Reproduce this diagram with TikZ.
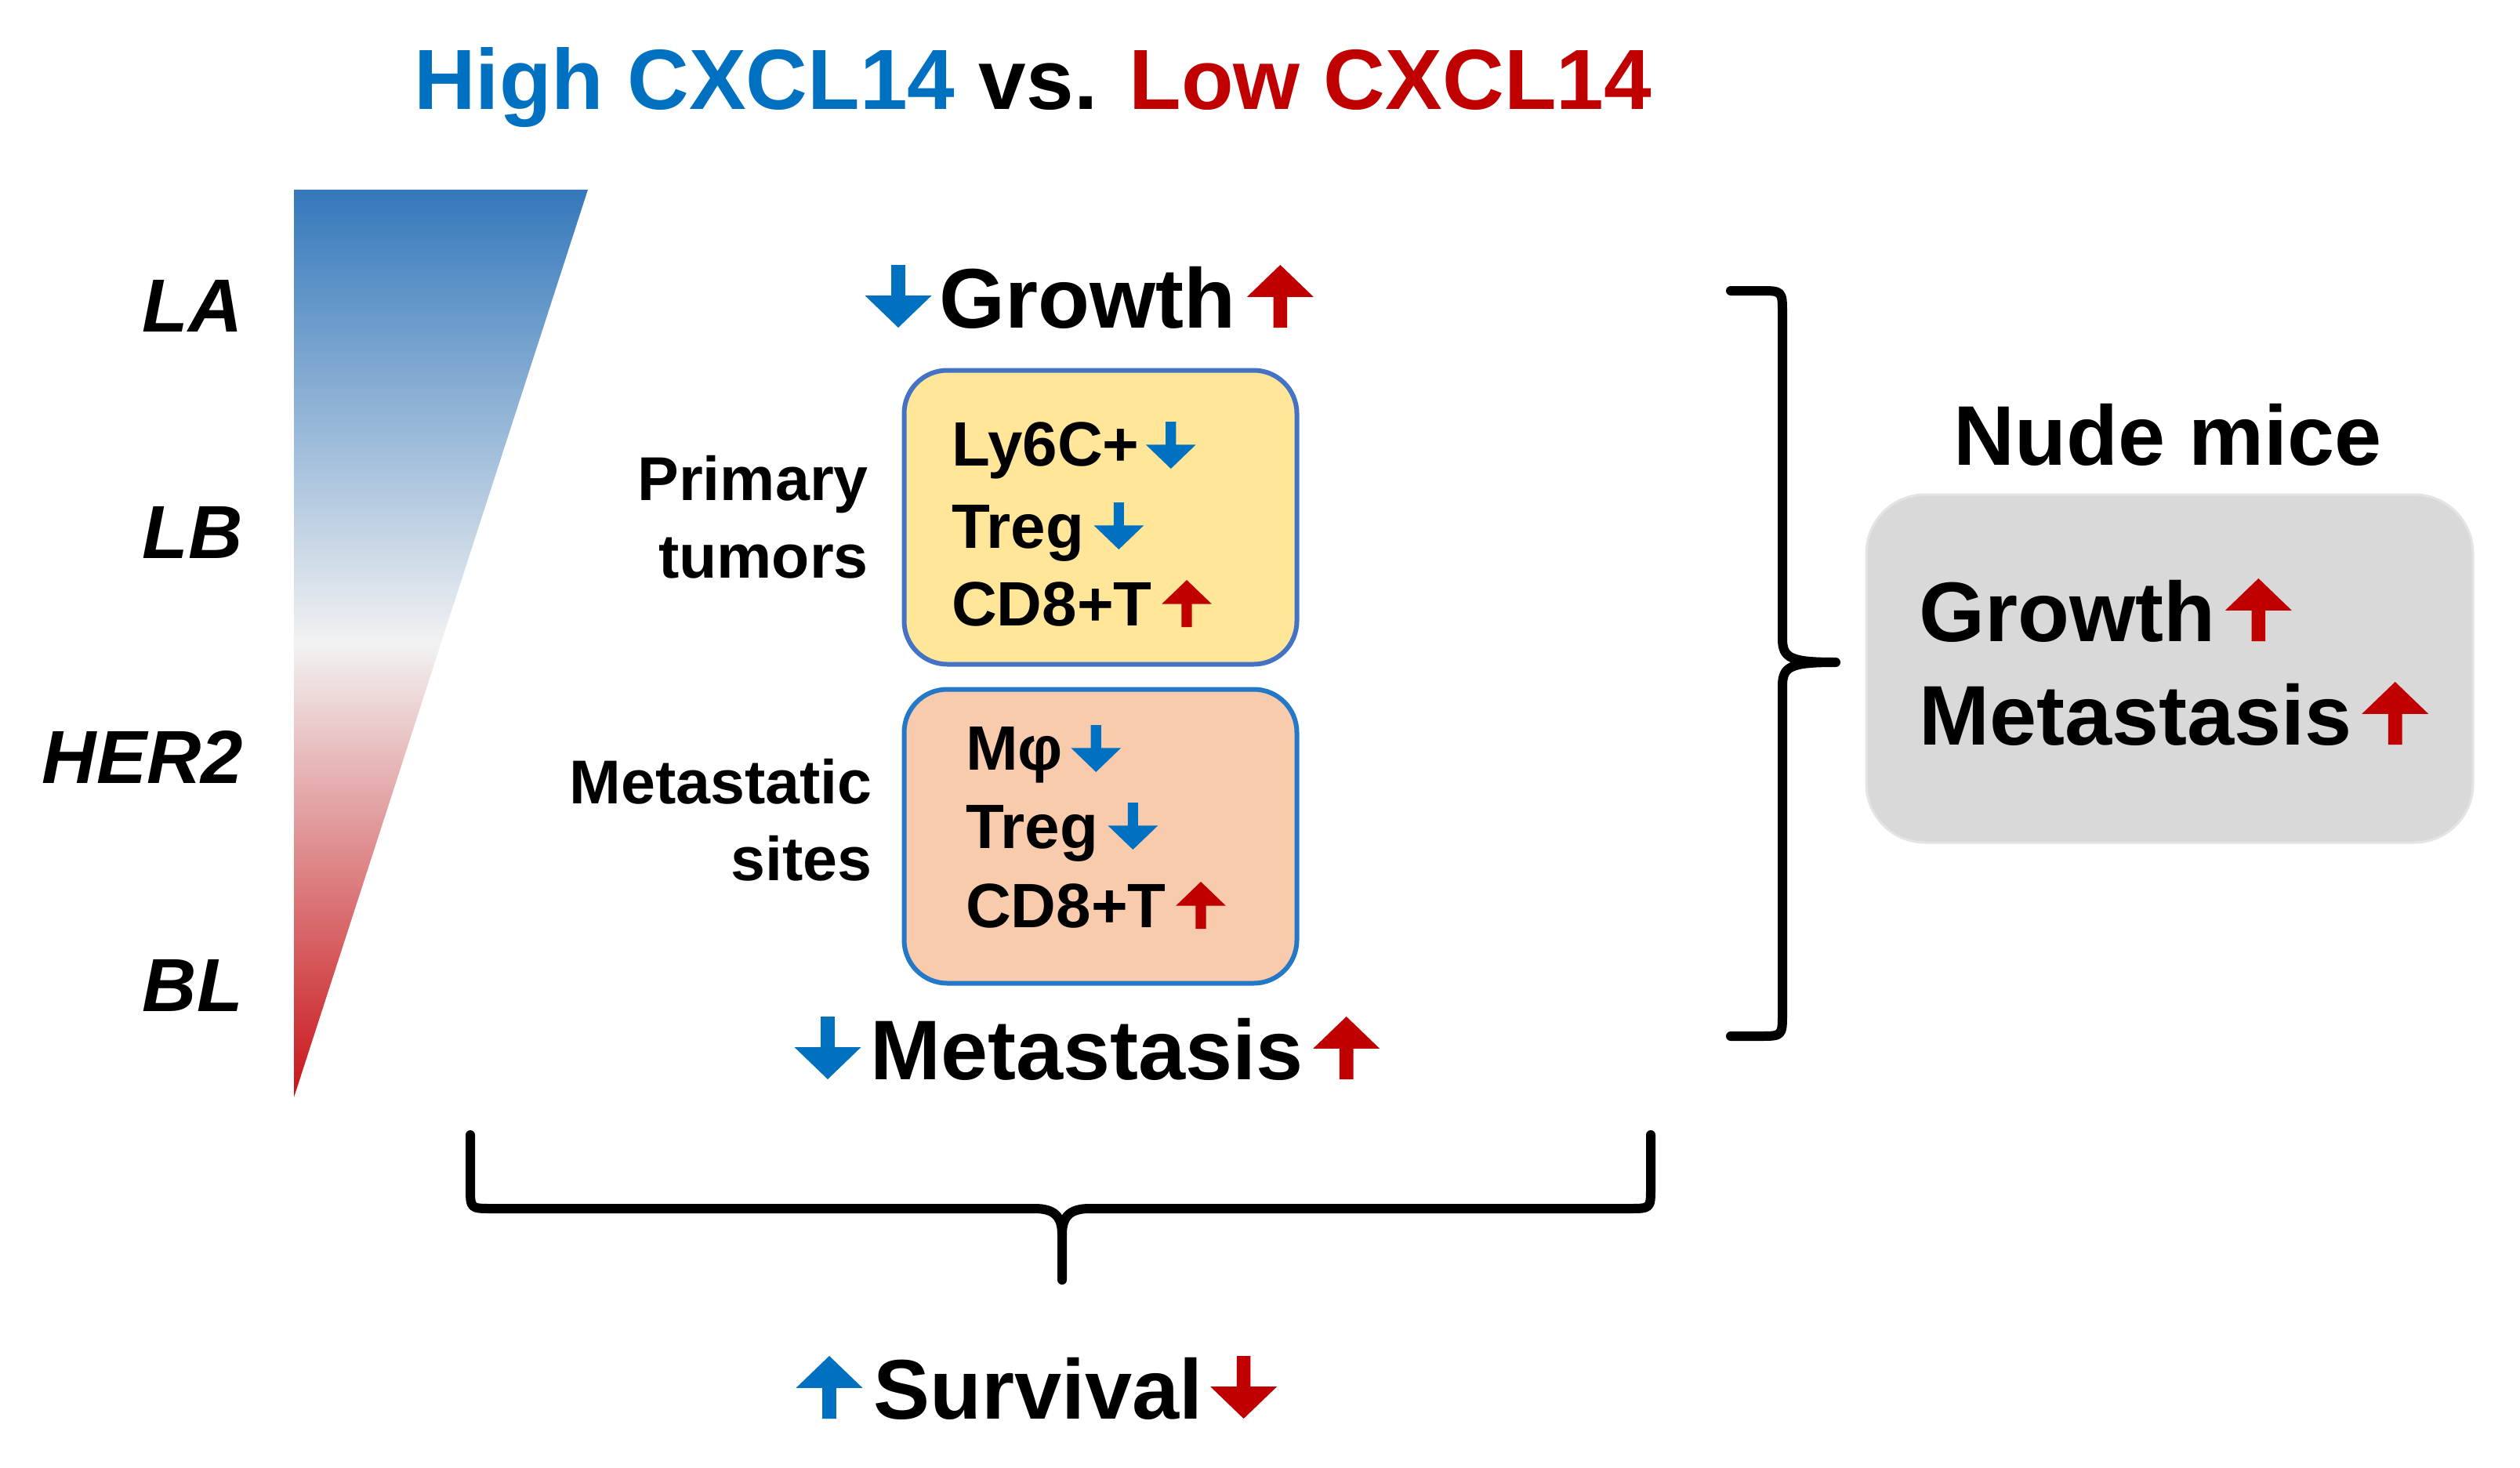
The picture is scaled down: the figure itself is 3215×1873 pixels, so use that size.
\documentclass[tikz,border=0pt]{standalone}
\usepackage{fontspec}
\setmainfont{Liberation Sans}
\usetikzlibrary{calc}
\definecolor{hiblue}{HTML}{0070C0}
\definecolor{lored}{HTML}{C00000}
\definecolor{yfill}{HTML}{FFE699}
\definecolor{ybord}{HTML}{4472C4}
\definecolor{ofill}{HTML}{F8CBAD}
\definecolor{obord}{HTML}{2478C8}
\definecolor{gfill}{HTML}{D9D9D9}
\definecolor{gbord}{HTML}{E4E4E4}
\definecolor{triTop}{HTML}{3478BB}
\definecolor{triMid}{HTML}{F2F2F2}
\definecolor{triBot}{HTML}{C81418}
\tikzset{
  uparr/.pic={\fill (0,-1) -- (0.53,-0.49) -- (0.11,-0.49) -- (0.11,0) -- (-0.11,0) -- (-0.11,-0.49) -- (-0.53,-0.49) -- cycle;},
  dnarr/.pic={\fill (0,0) -- (0.53,-0.51) -- (0.11,-0.51) -- (0.11,-1) -- (-0.11,-1) -- (-0.11,-0.51) -- (-0.53,-0.51) -- cycle;},
  bigtxt/.style={font=\fontsize{108}{120}\selectfont\bfseries, inner sep=0pt, anchor=base west},
  boxtxt/.style={font=\fontsize{80}{96}\selectfont\bfseries, inner sep=0pt, anchor=base west},
  sidetxt/.style={font=\fontsize{79}{96}\selectfont\bfseries, inner sep=0pt, anchor=base east},
  subtxt/.style={font=\fontsize{96}{110}\selectfont\bfseries\itshape, inner sep=0pt, anchor=base east},
  cellbox/.style={rounded corners=55pt, line width=6pt, inner sep=0pt, minimum width=501pt, minimum height=375pt},
  brace/.style={line width=12pt, line cap=round, line join=round},
}
\begin{document}
\begin{tikzpicture}[x=1pt,y=-1pt]
\useasboundingbox[fill=white] (0,0) rectangle (3215,1873);

% title
\node[font=\fontsize{109}{130}\selectfont\bfseries, inner sep=0pt, anchor=base west] (title) at (528,140)
  {\textcolor{hiblue}{High CXCL14} vs. \textcolor{lored}{Low CXCL14}};

% gradient triangle
\shade[top color=triTop, bottom color=triBot, middle color=triMid] (375,242) -- (750,242) -- (375,1400) -- cycle;

% subtype labels
\node[subtxt] (la) at (310,423) {LA};
\node[subtxt] (lb) at (310,712) {LB};
\node[subtxt] (her) at (310,999) {HER2};
\node[subtxt] (bl) at (310,1290) {BL};

% growth
\node[bigtxt] (grow) at (1198,418) {Growth};
\pic[hiblue,scale=80] at ($(grow.base west)+(-52,0)$) {dnarr};
\pic[lored,scale=80] at ($(grow.base east)+(57,0)$) {uparr};

% primary tumour box
\node[cellbox, draw=ybord, fill=yfill] (pbox) at (1404,660) {};
\node[boxtxt] (ly) at (1214,594) {Ly6C+};
\node[boxtxt] (tr1) at (1214,699) {Treg};
\node[boxtxt] (cd1) at (1214,798) {CD8+T};
\pic[hiblue,scale=60] at ($(ly.base east)+(40,4)$) {dnarr};
\pic[hiblue,scale=60] at ($(tr1.base east)+(44,2)$) {dnarr};
\pic[lored,scale=60] at ($(cd1.base east)+(44,2)$) {uparr};
\node[sidetxt] (prim) at (1108,638) {Primary};
\node[sidetxt] (tum) at (1108,737) {tumors};

% metastatic sites box
\node[cellbox, draw=obord, fill=ofill] (mbox) at (1404,1067) {};
\node[boxtxt] (mp) at (1232,982) {Mφ};
\node[boxtxt] (tr2) at (1232,1082) {Treg};
\node[boxtxt] (cd2) at (1232,1183) {CD8+T};
\pic[hiblue,scale=60] at ($(mp.base east)+(42,3)$) {dnarr};
\pic[hiblue,scale=60] at ($(tr2.base east)+(44,2)$) {dnarr};
\pic[lored,scale=60] at ($(cd2.base east)+(44,2)$) {uparr};
\node[sidetxt] (mets) at (1113,1025) {Metastatic};
\node[sidetxt] (site) at (1113,1123) {sites};

% metastasis
\node[bigtxt] (meta) at (1110,1377) {Metastasis};
\pic[hiblue,scale=80] at ($(meta.base west)+(-54,0)$) {dnarr};
\pic[lored,scale=80] at ($(meta.base east)+(55,0)$) {uparr};

% right bracket
\coordinate (rt) at (2208,371);
\coordinate (rtip) at (2342,845);
\coordinate (rb) at (2208,1322);
\draw[brace] (rt) -- (2245,371) .. controls (2274,371) .. (2274,400) -- (2274,815)
  .. controls (2274,840) and (2285,845) .. (rtip)
  .. controls (2285,845) and (2274,850) .. (2274,875) -- (2274,1292)
  .. controls (2274,1322) .. (2245,1322) -- (rb);

% nude mice
\node[bigtxt, anchor=base] (nude) at (2766,593) {Nude mice};
\node[rounded corners=75pt, fill=gfill, draw=gbord, line width=3pt, inner sep=0pt,
      minimum width=774pt, minimum height=444pt] (nbox) at (2768,853) {};
\node[bigtxt] (ng) at (2448,818) {Growth};
\node[bigtxt] (nm) at (2448,950) {Metastasis};
\pic[lored,scale=80] at ($(ng.base east)+(55,0)$) {uparr};
\pic[lored,scale=80] at ($(nm.base east)+(55,0)$) {uparr};

% bottom brace
\coordinate (bl1) at (600,1448);
\coordinate (br1) at (2106,1448);
\coordinate (btip) at (1355,1633);
\draw[brace] (bl1) -- (600,1515) .. controls (600,1542) .. (628,1542) -- (1320,1542)
  .. controls (1345,1542) and (1355,1552) .. (1355,1575) -- (btip);
\draw[brace] (br1) -- (2106,1515) .. controls (2106,1542) .. (2078,1542) -- (1390,1542)
  .. controls (1365,1542) and (1355,1552) .. (1355,1575);

% survival
\node[bigtxt] (surv) at (1114,1810) {Survival};
\pic[hiblue,scale=80] at ($(surv.base west)+(-56,0)$) {uparr};
\pic[lored,scale=80] at ($(surv.base east)+(52,0)$) {dnarr};
\end{tikzpicture}
\end{document}
